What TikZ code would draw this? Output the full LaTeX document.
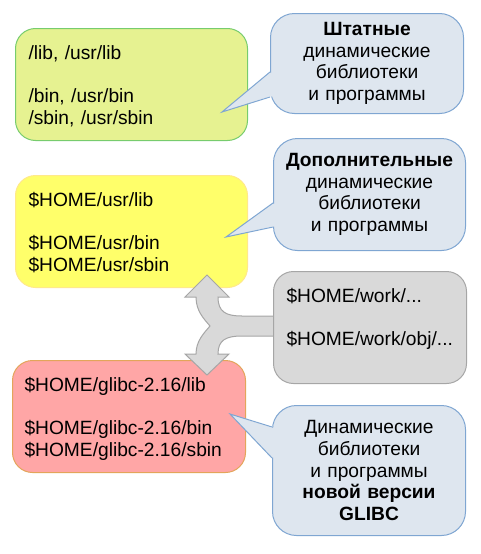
\documentclass[tikz,border=0pt]{standalone}
\usepackage{fontspec}
\setmainfont{Liberation Sans}

\definecolor{sysfill}{HTML}{E6F291}
\definecolor{sysline}{HTML}{77CC6E}
\definecolor{homefill}{HTML}{FFFF6A}
\definecolor{homeline}{HTML}{FFE98A}
\definecolor{glibcfill}{HTML}{FFA6A6}
\definecolor{glibcline}{HTML}{E3A55A}
\definecolor{workfill}{HTML}{D9D9D9}
\definecolor{workline}{HTML}{A6A6A6}
\definecolor{notefill}{HTML}{DEE6EF}
\definecolor{noteline}{HTML}{7FA6D2}

\tikzset{
  dirbox/.style={draw, rounded corners=20pt, anchor=north west, align=left,
    inner xsep=13pt, inner ysep=16pt, text height=15pt, text depth=65pt,
    minimum height=112pt},
  notebox/.style={draw=noteline, fill=notefill, rounded corners=24pt,
    anchor=north west, align=center, inner sep=0pt},
}

\begin{document}
\begin{tikzpicture}[x=1pt, y=-1pt, line width=1pt,
    font=\fontsize{19.2}{21.7}\selectfont]
\useasboundingbox (0,0) rectangle (480,554);

% directories
\node[dirbox, fill=sysfill, draw=sysline, text width=206pt] (sys) at (15,28)
  {/lib, /usr/lib\\[21.7pt]/bin, /usr/bin\\/sbin, /usr/sbin};
\node[dirbox, fill=homefill, draw=homeline, text width=206pt] (home) at (15,175)
  {\$HOME/usr/lib\\[21.7pt]\$HOME/usr/bin\\\$HOME/usr/sbin};
\node[dirbox, fill=glibcfill, draw=glibcline, text width=209pt, inner xsep=12pt] (glibc) at (12,360)
  {\$HOME/glibc-2.16/lib\\[21.7pt]\$HOME/glibc-2.16/bin\\\$HOME/glibc-2.16/sbin};

% split arrow from the work dirs
\draw[fill=workfill, draw=workline] (207,275) -- (229,297) -- (218,297)
  .. controls (218,312) and (226,316) .. (242,316) -- (276,316) -- (276,336)
  -- (242,336) .. controls (226,336) and (218,340) .. (218,354)
  -- (229,354) -- (207,375) -- (185,354) -- (196,354)
  .. controls (196,341) and (204,333) .. (210,326)
  .. controls (204,319) and (196,311) .. (196,297) -- (185,297) -- cycle;

\node[dirbox, fill=workfill, draw=workline, text width=167pt] (work) at (273,271)
  {\$HOME/work/...\\[21.7pt]\$HOME/work/obj/...};

% callouts
\node[notebox, text width=193pt, minimum height=100pt] (std) at (270,13)
  {\textbf{Штатные}\\динамические\\библиотеки\\и программы};
\fill[notefill] (222,112) -- (269.4,72.5) -- (276,72.5) -- (276,96.5) -- (269.4,96.5) -- cycle;
\draw[noteline] (270,72) -- (222,112) -- (270,97);

\node[notebox, text width=192pt, minimum height=112pt] (extra) at (273,138)
  {\textbf{Дополнительные}\\динамические\\библиотеки\\и программы};
\fill[notefill] (226,237) -- (272.4,203.5) -- (279,203.5) -- (279,226.5) -- (272.4,226.5) -- cycle;
\draw[noteline] (273,203) -- (226,237) -- (273,227);

\node[notebox, text width=193pt, minimum height=130pt] (newer) at (272,405)
  {Динамические\\библиотеки\\и программы\\\textbf{новой версии}\\\textbf{GLIBC}};
\fill[notefill] (230,414) -- (271.4,427.5) -- (278,427.5) -- (278,457.5) -- (271.4,457.5) -- cycle;
\draw[noteline] (272,427) -- (230,414) -- (272,458);
\end{tikzpicture}
\end{document}
